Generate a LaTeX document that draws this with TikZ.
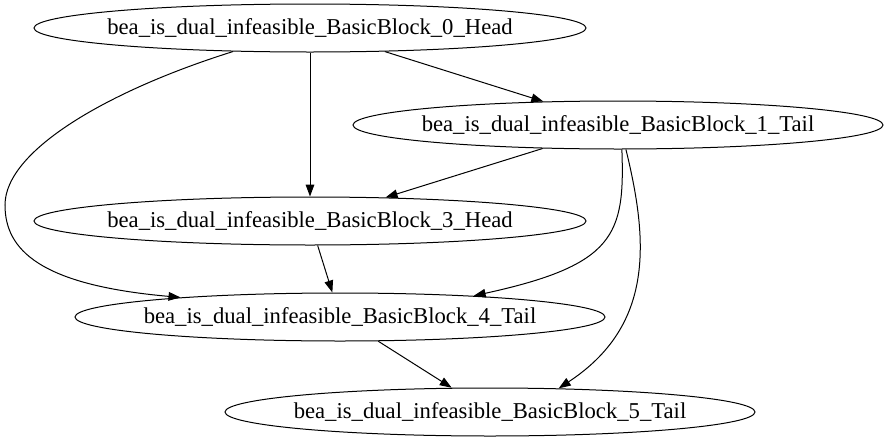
\documentclass[tikz,border=0pt]{standalone}
\usepackage{fontspec}
\newfontfamily\blockfont{Liberation Serif}
\usetikzlibrary{shapes.geometric, arrows.meta}

\begin{document}
\begin{tikzpicture}[
    x=0.75pt, y=-0.75pt,
    % Basic block style
    blockbox/.style={
        ellipse,
        draw=black,
        line width=0.75pt,
        inner sep=0pt,
        minimum height=36pt,
        font=\blockfont\fontsize{17}{20}\selectfont
    },
    % Head block width
    headbox/.style={blockbox, minimum width=414pt},
    % Tail block width
    tailbox/.style={blockbox, minimum width=397.5pt},
    % Arrow style
    arrow/.style={
        -{Triangle[length=9pt, width=6.5pt]},
        line width=0.75pt,
        black
    }
]
\useasboundingbox (0,0) rectangle (889,443);

% === Basic blocks ===
\node[headbox] (head0) at (310, 28) {\makebox[0pt]{bea\_is\_dual\_infeasible\_BasicBlock\_0\_Head}};
\node[tailbox] (tail1) at (618, 125) {\makebox[0pt]{bea\_is\_dual\_infeasible\_BasicBlock\_1\_Tail}};
\node[headbox] (head3) at (310, 221) {\makebox[0pt]{bea\_is\_dual\_infeasible\_BasicBlock\_3\_Head}};
\node[tailbox] (tail4) at (340, 317) {\makebox[0pt]{bea\_is\_dual\_infeasible\_BasicBlock\_4\_Tail}};
\node[tailbox] (tail5) at (490, 412) {\makebox[0pt]{bea\_is\_dual\_infeasible\_BasicBlock\_5\_Tail}};

% === Straight edges ===
\draw[arrow] (head0) -- (tail1);
\draw[arrow] (head0) -- (head3);
\draw[arrow] (tail1) -- (head3);
\draw[arrow] (head3) -- (tail4);
\draw[arrow] (tail4) -- (tail5);

% === Curved edges ===
\draw[arrow] (head0.197.1) .. controls (110, 90) and (5, 150) .. (5, 205)
    .. controls (5, 250) and (40, 285) .. (tail4.173.8);
\draw[arrow] (tail1.-81) .. controls (625, 235) and (615, 265) .. (tail4.9.5);
\draw[arrow] (tail1.-72.3) .. controls (648, 240) and (655, 325) .. (tail5.19.8);

\end{tikzpicture}
\end{document}
